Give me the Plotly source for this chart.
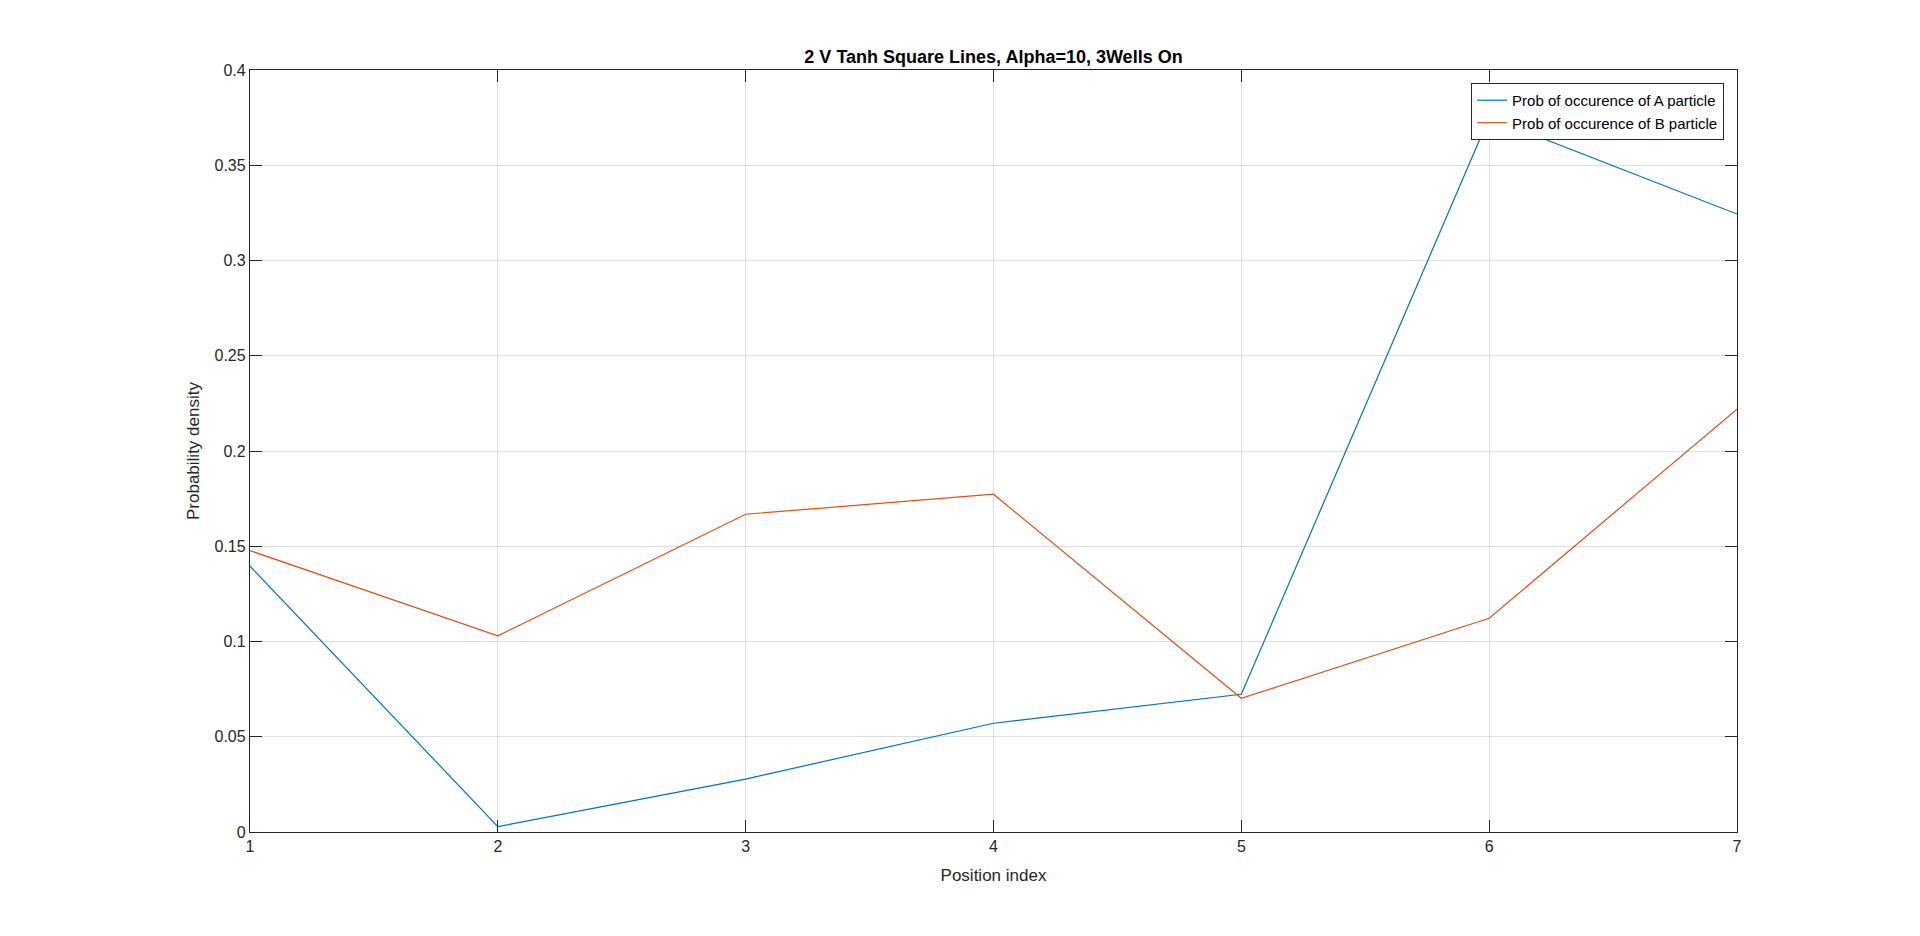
import plotly.graph_objects as go

positions = [1, 2, 3, 4, 5, 6, 7]
prob_a = [0.1396, 0.0028, 0.0278, 0.0571, 0.0723, 0.375, 0.3244]
prob_b = [0.1477, 0.1030, 0.1668, 0.1773, 0.0702, 0.1122, 0.2220]
x_ticks = [1, 2, 3, 4, 5, 6, 7]
y_ticks = [0, 0.05, 0.1, 0.15, 0.2, 0.25, 0.3, 0.35, 0.4]

FONT = "Liberation Sans, Arial, Helvetica, sans-serif"
AX = "#262626"

fig = go.Figure()
fig.add_trace(go.Scatter(x=positions, y=prob_a, mode="lines",
                         name="Prob of occurence of A particle",
                         line=dict(color="#0072BD", width=1.2)))
fig.add_trace(go.Scatter(x=positions, y=prob_b, mode="lines",
                         name="Prob of occurence of B particle",
                         line=dict(color="#D95319", width=1.2)))

axis_common = dict(
    showline=True, linecolor=AX, linewidth=1.3, mirror="ticks",
    ticks="inside", ticklen=12, tickwidth=1.3, tickcolor=AX,
    showgrid=True, gridcolor="#dfdfdf", gridwidth=1,
    zeroline=False,
    tickfont=dict(family=FONT, size=16, color=AX),
)

fig.update_layout(
    width=1904, height=920,
    paper_bgcolor="white", plot_bgcolor="white",
    margin=dict(l=242, r=175, t=62, b=96),
    font=dict(family=FONT, color=AX),
    title=dict(text="<b>2 V Tanh Square Lines, Alpha=10, 3Wells On</b>",
               font=dict(family=FONT, size=18, color="black"),
               x=0.5, xref="paper", xanchor="center",
               y=1, yref="paper", yanchor="bottom", pad=dict(b=7)),
    xaxis=dict(range=[1, 7], tickvals=x_ticks,
               title=dict(text="Position index", font=dict(family=FONT, size=17, color=AX), standoff=14),
               **axis_common),
    yaxis=dict(range=[0, 0.4], tickvals=y_ticks,
               title=dict(text="Probability density", font=dict(family=FONT, size=17, color=AX), standoff=10),
               **axis_common),
    legend=dict(x=0.9913, y=0.983, xanchor="right", yanchor="top",
                bgcolor="white", bordercolor=AX, borderwidth=1,
                font=dict(family=FONT, size=15, color="black"),
                tracegroupgap=0, itemwidth=30),
    showlegend=True,
)

fig.write_html("out.html")
